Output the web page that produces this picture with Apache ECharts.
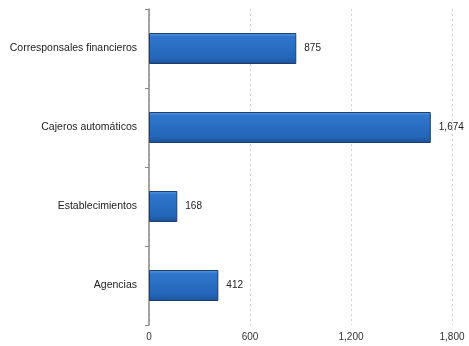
<!DOCTYPE html>
<html><head><meta charset="utf-8">
<script src="https://cdn.jsdelivr.net/npm/echarts@6/dist/echarts.min.js"></script>
<style>html,body{margin:0;padding:0;background:#fff}#c{width:469px;height:346px}</style>
</head><body><div id="c"></div>
<script>
var categories = ["Agencias", "Establecimientos", "Cajeros automáticos", "Corresponsales financieros"];
var values = [412, 168, 1674, 875];
var xTicks = [0, 600, 1200, 1800];

var chart = echarts.init(document.getElementById('c'), null, {renderer: 'canvas'});
chart.setOption({
  animation: false,
  backgroundColor: '#ffffff',
  grid: {left: 149, right: 17, top: 9, bottom: 21, containLabel: false},
  xAxis: {
    type: 'value', min: 0, max: 1800, interval: 600,
    axisLine: {show: false},
    axisTick: {show: false},
    axisLabel: {
      color: '#333', fontFamily: 'Liberation Sans', fontSize: 10, margin: 7,
      formatter: function (v) { return v.toLocaleString('en-US'); }
    },
    splitLine: {show: true, lineStyle: {color: '#d0d0d0', type: [2, 3], width: 1}}
  },
  yAxis: {
    type: 'category', data: categories,
    axisLine: {show: true, lineStyle: {color: '#888', width: 1.5}},
    axisTick: {show: true, length: 4, inside: false, lineStyle: {color: '#888'}},
    axisLabel: {color: '#222', fontFamily: 'Liberation Sans', fontSize: 10.5, margin: 12}
  },
  series: [{
    type: 'bar', data: values, barWidth: 31,
    itemStyle: {
      color: new echarts.graphic.LinearGradient(0, 0, 0, 1, [
        {offset: 0, color: '#5a9ae0'},
        {offset: 0.12, color: '#2f76cc'},
        {offset: 0.8, color: '#2466b8'},
        {offset: 1, color: '#1b4f94'}
      ]),
      borderColor: '#1c3e70', borderWidth: 1
    },
    label: {
      show: true, position: 'right', distance: 8, color: '#222',
      fontFamily: 'Liberation Sans', fontSize: 10,
      formatter: function (p) { return p.value.toLocaleString('en-US'); }
    }
  }]
});
</script></body></html>
